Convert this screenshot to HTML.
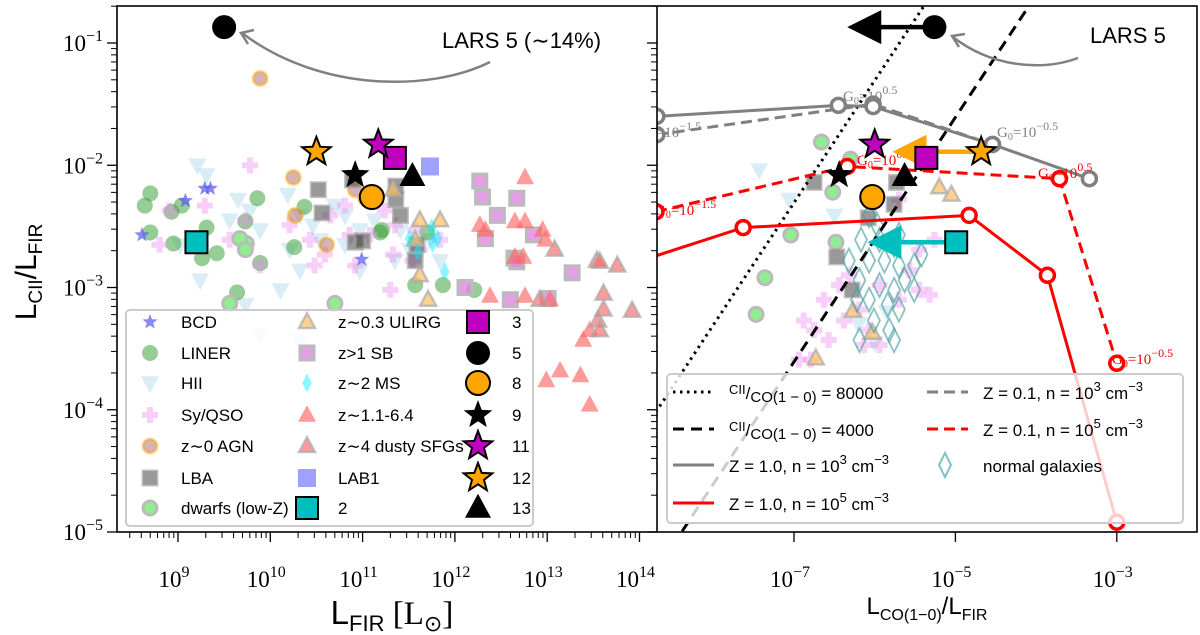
<!DOCTYPE html>
<html><head><meta charset="utf-8"><style>
html,body{margin:0;padding:0;background:#fff;}
svg{display:block;}
text{font-family:"Liberation Sans","DejaVu Sans",sans-serif;}
.tick{font-family:"Liberation Serif","DejaVu Serif",serif;font-size:23px;}
.g0{font-family:"Liberation Serif","DejaVu Serif",serif;font-size:15px;}
.leg{font-size:17px;}
</style></head><body>
<svg id="chart" width="1200" height="635" viewBox="0 0 1200 635" xmlns="http://www.w3.org/2000/svg">
<defs>
<clipPath id="clipL"><rect x="117" y="6" width="540" height="526"/></clipPath>
<clipPath id="clipR"><rect x="657" y="6" width="540" height="526"/></clipPath>
</defs>
<g id="leftData" clip-path="url(#clipL)"></g>
<g id="rightData" clip-path="url(#clipR)"></g>
<g id="axes"></g>
<g id="legends"></g>
</svg>
<script>
// ---- left panel data (log10 L_FIR, log10 L_CII/L_FIR) ----
const bcdX=[8.61,9.08,9.29,9.35,10.99];
const bcdY=[-2.57,-2.29,-2.19,-2.19,-2.77];
const linerX=[8.70,8.64,8.93,9.04,8.70,8.95,9.26,9.31,9.42,9.73,9.86,9.89,9.64,10.26,10.37,11.19,11.70,11.21,11.57,11.87,12.21];
const linerY=[-2.23,-2.33,-2.38,-2.33,-2.55,-2.64,-2.76,-2.51,-2.72,-2.46,-2.27,-2.80,-3.04,-2.67,-2.34,-2.55,-2.55,-2.53,-2.98,-2.98,-3.02];
const hiiX=[9.21,9.31,9.65,9.78,9.56,9.89,10.19,10.32,10.46,10.54,10.70,10.81,10.97,11.13,10.21,10.32,10.11,11.41,11.51,11.73,11.84,9.24,9.02,9.73,10.32,11.35,10.97,9.89,10.81];
const hiiY=[-2.00,-2.08,-2.28,-2.37,-2.45,-2.53,-2.24,-2.41,-2.49,-2.61,-2.33,-2.65,-2.53,-2.45,-2.69,-2.86,-3.02,-2.53,-2.69,-2.61,-2.78,-2.94,-2.65,-3.14,-3.43,-2.78,-2.86,-3.39,-2.41];
const syX=[9.78,8.91,9.29,8.80,9.56,9.73,9.89,10.21,10.43,10.59,10.48,10.65,10.81,10.86,10.92,11.08,11.24,11.35,11.57,11.54,11.62,11.30,11.84,11.33];
const syY=[-2.00,-2.37,-2.33,-2.65,-2.61,-2.45,-2.82,-2.49,-2.61,-2.73,-2.82,-2.41,-2.33,-2.57,-2.82,-2.57,-2.37,-2.49,-2.53,-2.78,-2.69,-3.02,-2.61,-2.73];
const agnX=[9.89,10.25,10.61,10.27,10.92,11.03];
const agnY=[-1.29,-2.10,-2.65,-2.41,-2.20,-2.27];
const lbaX=[10.52,10.56,10.92,11.00,10.89,11.36,11.36,11.41,11.57,11.59];
const lbaY=[-2.20,-2.39,-2.63,-2.62,-2.12,-2.17,-2.28,-2.41,-2.78,-2.65];
const dwarfX=[9.74,9.67,9.56,10.70,9.73];
const dwarfY=[-2.64,-2.60,-3.13,-3.13,-2.69];
const ulirgX=[11.33,11.62,11.84,11.57,11.62,11.71];
const ulirgY=[-2.20,-2.45,-2.45,-2.61,-2.90,-3.10];
const sbX=[12.27,12.30,12.46,12.33,12.67,12.85,12.64,12.67,13.27,12.60,13.01,12.11];
const sbY=[-2.13,-2.26,-2.41,-2.60,-2.27,-2.57,-2.76,-2.79,-2.88,-3.10,-3.09,-3.00];
const msX=[11.51,11.75,11.81,11.60,11.89,11.76];
const msY=[-2.60,-2.51,-2.60,-2.71,-2.87,-2.64];
const hzX=[12.76,12.33,12.27,12.65,12.76,12.95,12.98,12.65,12.74,12.38,12.76,13.03,13.14,13.36,13.46,12.99,13.39,13.46];
const hzY=[-2.10,-2.53,-2.49,-2.46,-2.46,-2.53,-2.61,-2.75,-2.75,-3.07,-3.07,-3.10,-3.68,-3.72,-3.96,-3.76,-3.43,-3.35];
const dustyX=[13.08,13.54,13.57,13.61,13.55,13.57,13.92,12.92,13.61,13.76];
const dustyY=[-2.69,-2.78,-2.79,-3.18,-3.27,-3.35,-3.19,-3.10,-3.05,-2.82];
const lab1X=[11.73]; const lab1Y=[-2.01];
// LARS targets: labels, log L_FIR, log ratio
const targetLabels=["2","3","5","8","9","11","12","13"];
const targetLX=[9.20,11.35,9.50,11.10,10.92,11.17,10.50,11.54];
const targetY=[-2.63,-1.94,-0.87,-2.26,-2.08,-1.83,-1.89,-2.09];
// right panel: log L_CO/L_FIR of targets and arrow tips (upper limits)
const targetRX=[-4.99,-5.36,-5.26,-6.03,-6.44,-6.00,-4.68,-5.63];
const arrowFrom=["5","12","2"];
const arrowTipX=[-6.34,-5.78,-6.09];
// right panel comparison samples
const normX=[-6.07,-5.97,-6.17,-5.94,-5.76,-5.70,-6.07,-5.88,-5.70,-5.51,-6.19,-5.94,-5.76,-5.51,-6.07,-5.84,-5.70,-6.01,-5.82,-6.19,-5.63,-5.42,-6.32,-6.22,-5.76];
const normY=[-2.41,-2.49,-2.61,-2.61,-2.65,-2.57,-2.78,-2.78,-2.82,-2.82,-2.94,-2.98,-3.02,-3.02,-3.10,-3.14,-3.18,-3.27,-3.35,-3.43,-2.94,-2.73,-2.78,-3.10,-3.43];
const rSyX=[-6.88,-6.75,-6.63,-6.44,-6.32,-6.19,-6.07,-5.94,-5.45,-5.32,-5.45,-5.57,-6.94,-6.79,-6.57,-6.38,-5.94,-5.70,-6.13,-5.26,-6.10,-5.70];
const rSyY=[-3.27,-3.35,-3.10,-2.98,-2.90,-3.18,-3.35,-3.47,-3.02,-3.06,-2.69,-2.86,-3.59,-3.59,-3.43,-3.27,-2.98,-3.10,-3.47,-2.61,-2.28,-2.28];
const rDwarfX=[-6.66,-6.30,-6.52,-7.04,-6.48,-7.36,-7.47];
const rDwarfY=[-1.81,-1.95,-2.22,-2.57,-2.63,-2.92,-3.22];
const rLbaX=[-6.75,-6.47,-6.28,-5.73,-6.08,-5.76];
const rLbaY=[-2.14,-2.75,-3.02,-2.14,-2.43,-2.32];
const rUlirgX=[-5.20,-5.05,-6.27,-6.03,-6.73];
const rUlirgY=[-2.18,-2.24,-3.19,-3.37,-3.58];
const rHiiX=[-7.43,-7.06,-6.50,-6.20,-6.00,-5.85];
const rHiiY=[-2.04,-2.28,-2.41,-3.30,-3.45,-3.20];
// model tracks
const gSolidX=[-8.70,-6.45,-6.02,-4.54,-3.34];
const gSolidY=[-1.60,-1.51,-1.52,-1.83,-2.11];
const gDashX=[-8.70,-6.02,-4.54];
const gDashY=[-1.75,-1.50,-1.83];
const rDashX=[-8.71,-6.34,-3.71,-3.00];
const rDashY=[-2.38,-2.01,-2.11,-3.62];
const rSolidX=[-8.80,-7.63,-4.83,-3.86,-3.00];
const rSolidY=[-2.76,-2.51,-2.41,-2.90,-4.92];
const ratioValues=[80000,4000];
const ratioOffset=-0.21;
const yTickVals=[-5,-4,-3,-2,-1];
const lxTickVals=[9,10,11,12,13,14];
const rxTickVals=[-7,-5,-3];

const LX=v=>178+(v-9)*92.3;
const RX=v=>794+(v+7)*80.7;
const Y=v=>43+(-1-v)*122.25;
const NS="http://www.w3.org/2000/svg";
function el(tag,attrs,parent){const e=document.createElementNS(NS,tag);for(const k in attrs)e.setAttribute(k,attrs[k]);parent.appendChild(e);return e;}
function shape(type,cx,cy,s,st,parent){
  let e;
  if(type==='circle'){e=el('circle',{cx:cx,cy:cy,r:s},parent);}
  else if(type==='square'){e=el('rect',{x:cx-s,y:cy-s,width:2*s,height:2*s},parent);}
  else{
    let p=[];
    if(type==='tri'){p=[[0,-s*1.1],[s,s*0.75],[-s,s*0.75]];}
    else if(type==='tridown'){p=[[0,s*1.1],[s,-s*0.75],[-s,-s*0.75]];}
    else if(type==='diamond'){p=[[0,-s*1.2],[s*0.6,0],[0,s*1.2],[-s*0.6,0]];}
    else if(type==='star'){for(let i=0;i<10;i++){const r=i%2?s*0.42:s;const a=-Math.PI/2+i*Math.PI/5;p.push([r*Math.cos(a),r*Math.sin(a)]);}}
    else if(type==='plus'){const w=s*0.38;p=[[-w,-s],[w,-s],[w,-w],[s,-w],[s,w],[w,w],[w,s],[-w,s],[-w,w],[-s,w],[-s,-w],[-w,-w]];}
    e=el('polygon',{points:p.map(q=>(cx+q[0]).toFixed(1)+','+(cy+q[1]).toFixed(1)).join(' ')},parent);
  }
  for(const k in st)e.setAttribute(k,st[k]);
  return e;
}
const S={
 bcd:['star',8,{fill:'#5555ee','fill-opacity':0.7}],
 liner:['circle',8,{fill:'#2e9b2e','fill-opacity':0.5}],
 hii:['tridown',9,{fill:'#add8e6','fill-opacity':0.45}],
 sy:['plus',8,{fill:'#ee88ee','fill-opacity':0.4}],
 agn:['circle',7,{fill:'#b06a6a','fill-opacity':0.5,stroke:'#ffa500','stroke-opacity':0.45,'stroke-width':3}],
 lba:['square',7,{fill:'#333','fill-opacity':0.5,stroke:'#999','stroke-opacity':0.6,'stroke-width':3}],
 dwarf:['circle',7,{fill:'#90ee90',stroke:'#bbb','stroke-width':3}],
 ulirg:['tri',8,{fill:'#ffc060','fill-opacity':0.7,stroke:'#aaa','stroke-opacity':0.7,'stroke-width':2.5}],
 sb:['square',7,{fill:'#dd88dd','fill-opacity':0.8,stroke:'#bbb','stroke-width':3}],
 ms:['diamond',8,{fill:'#00eeff','fill-opacity':0.45}],
 hz:['tri',9,{fill:'#ff6666','fill-opacity':0.65}],
 dusty:['tri',8,{fill:'#ff6666','fill-opacity':0.65,stroke:'#aaa','stroke-opacity':0.7,'stroke-width':2.5}],
 lab1:['square',9,{fill:'#8888ff','fill-opacity':0.8}],
 norm:['diamond',10,{fill:'none',stroke:'#4aa0a0','stroke-opacity':0.65,'stroke-width':1.8}],
 t2:['square',11,{fill:'#00bfbf',stroke:'#000','stroke-width':2}],
 t3:['square',11,{fill:'#bf00bf',stroke:'#000','stroke-width':2}],
 t5:['circle',12,{fill:'#000'}],
 t8:['circle',12,{fill:'#ffa500',stroke:'#000','stroke-width':2}],
 t9:['star',15,{fill:'#000'}],
 t11:['star',15,{fill:'#bf00bf',stroke:'#000','stroke-width':2}],
 t12:['star',15,{fill:'#ffa500',stroke:'#000','stroke-width':2}],
 t13:['tri',13,{fill:'#000'}]
};
function plot(key,xs,ys,fx,parent,name){
  const g=el('g',{},parent);
  
  
  xs.forEach((x,i)=>{const d=S[key];const m=shape(d[0],fx(x),Y(ys[i]),d[1],d[2],g);
    
    });
}
const L=document.getElementById('leftData'),R=document.getElementById('rightData');
const AX=document.getElementById('axes'),LG=document.getElementById('legends');

// ---- left panel ----
plot('hii',hiiX,hiiY,LX,L,'hii-series');
plot('liner',linerX,linerY,LX,L,'liner-series');
plot('sy',syX,syY,LX,L,'sy-qso-series');
plot('bcd',bcdX,bcdY,LX,L,'bcd-series');
plot('dwarf',dwarfX,dwarfY,LX,L,'dwarfs-series');
plot('agn',agnX,agnY,LX,L,'z0-agn-series');
plot('lba',lbaX,lbaY,LX,L,'lba-series');
plot('sb',sbX,sbY,LX,L,'z1-sb-series');
plot('ulirg',ulirgX,ulirgY,LX,L,'ulirg-series');
plot('ms',msX,msY,LX,L,'z2-ms-series');
plot('hz',hzX,hzY,LX,L,'highz-series');
plot('dusty',dustyX,dustyY,LX,L,'dusty-sfg-series');
plot('lab1',lab1X,lab1Y,LX,L,'lab1-series');
targetLabels.forEach((lab,i)=>{const d=S['t'+lab];const m=shape(d[0],LX(targetLX[i]),Y(targetY[i]),d[1],d[2],L);
  
  });
let p=el('path',{d:'M490,62 C430,92 320,92 242,33',fill:'none',stroke:'#808080','stroke-width':2.5},L);

p=el('path',{d:'M248,44 L241,33 L254,30',fill:'none',stroke:'#808080','stroke-width':2.5},L);

let t=el('text',{x:442,y:48,'font-size':22},L);t.textContent='LARS 5 (∼14%)';


// ---- right panel ----
plot('hii',rHiiX,rHiiY,RX,R,'r-hii-series');
plot('sy',rSyX,rSyY,RX,R,'r-sy-qso-series');
plot('dwarf',rDwarfX,rDwarfY,RX,R,'r-dwarfs-series');
plot('lba',rLbaX,rLbaY,RX,R,'r-lba-series');
plot('ulirg',rUlirgX,rUlirgY,RX,R,'r-ulirg-series');
plot('norm',normX,normY,RX,R,'normal-galaxies-series');
ratioValues.forEach((rv,i)=>{
  const off=Math.log10(rv)+ratioOffset;const x1=-9,x2=-1.5;
  const ln=el('line',{x1:RX(x1),y1:Y(x1+off),x2:RX(x2),y2:Y(x2+off),stroke:'#000','stroke-width':3,'stroke-dasharray':i===0?'2.5 4.5':'11 7'},R);
  
  
});
function track(xs,ys,color,dash,name){
  const g=el('g',{},R);
  
  el('polyline',{points:xs.map((x,i)=>RX(x)+','+Y(ys[i])).join(' '),fill:'none',stroke:color,'stroke-width':3,'stroke-dasharray':dash},g);
  xs.forEach((x,i)=>{const c=el('circle',{cx:RX(x),cy:Y(ys[i]),r:7,fill:'#fff',stroke:color,'stroke-width':3.5},g);
    });
}
track(gDashX,gDashY,'#808080','11 6','z01-n3-track');
track(gSolidX,gSolidY,'#808080','none','z1-n3-track');
track(rDashX,rDashY,'#ff0000','11 6','z01-n5-track');
track(rSolidX,rSolidY,'#ff0000','none','z1-n5-track');
function g0(x,y,exp,color,name){const tt=el('text',{x:x,y:y,fill:color,class:'g0'},R);
  tt.innerHTML='G<tspan font-size="10" dy="3">0</tspan><tspan dy="-3">=10</tspan><tspan font-size="12" dy="-7">'+exp+'</tspan>';
  }
g0(640,137,'−1.5','#808080','g0-label-gray-1');
g0(843,101,'0.5','#808080','g0-label-gray-2');
g0(997,137,'−0.5','#808080','g0-label-gray-3');
g0(655,215,'−1.5','#ff0000','g0-label-red-1');
g0(857,165,'0.5','#ff0000','g0-label-red-2');
g0(1038,178,'0.5','#ff0000','g0-label-red-3');
g0(1112,364,'−0.5','#ff0000','g0-label-red-4');
const arrowColors={"5":"#000","12":"#ffa500","2":"#00bfbf"};
arrowFrom.forEach((lab,k)=>{const i=targetLabels.indexOf(lab);const x0=RX(targetRX[i]),x1=RX(arrowTipX[k]),y=Y(targetY[i]);const c=arrowColors[lab];
  const g=el('g',{},R);
  el('line',{x1:x0,y1:y,x2:x1+30,y2:y,stroke:c,'stroke-width':4.5},g);
  el('polygon',{points:x1+','+y+' '+(x1+34)+','+(y-17)+' '+(x1+34)+','+(y+17)},g).setAttribute('fill',c);
});
targetLabels.forEach((lab,i)=>{const d=S['t'+lab];const m=shape(d[0],RX(targetRX[i]),Y(targetY[i]),d[1],d[2],R);
  
  });
p=el('path',{d:'M1078,58 C1040,72 990,66 953,37',fill:'none',stroke:'#808080','stroke-width':2.5},R);

p=el('path',{d:'M959,47 L952,36 L965,34',fill:'none',stroke:'#808080','stroke-width':2.5},R);

t=el('text',{x:1090,y:43,'font-size':22},R);t.textContent='LARS 5';


// ---- axes ----
let fr=el('rect',{x:117,y:6,width:1080,height:526,fill:'none',stroke:'#000','stroke-width':1.6},AX);

el('line',{x1:657,y1:6,x2:657,y2:532,stroke:'#000','stroke-width':1.6},AX);
[117,657].forEach(ax=>{
  yTickVals.forEach(v=>{el('line',{x1:ax-10,x2:ax,y1:Y(v),y2:Y(v),stroke:'#000','stroke-width':1.3},AX);
    for(let m=2;m<=9;m++){const yy=Y(v+Math.log10(m));if(yy>=6)el('line',{x1:ax-6,x2:ax,y1:yy,y2:yy,stroke:'#000','stroke-width':1},AX);}});
});
yTickVals.forEach(v=>{const tt=el('text',{x:103,y:Y(v)+8,'text-anchor':'end',class:'tick'},AX);
  tt.innerHTML='10<tspan font-size="16" dy="-10">−'+(-v)+'</tspan>';
  });
lxTickVals.forEach(v=>{el('line',{x1:LX(v),x2:LX(v),y1:532,y2:542,stroke:'#000','stroke-width':1.3},AX);
  const tt=el('text',{x:LX(v)-4,y:587,'text-anchor':'middle',class:'tick'},AX);
  tt.innerHTML='10<tspan font-size="16" dy="-10">'+v+'</tspan>';
  });
for(let d=8;d<=14;d++){for(let m=2;m<=9;m++){const xx=LX(d+Math.log10(m));if(xx>117&&xx<657)el('line',{x1:xx,x2:xx,y1:532,y2:538,stroke:'#000','stroke-width':1},AX);}}
rxTickVals.forEach(v=>{el('line',{x1:RX(v),x2:RX(v),y1:532,y2:542,stroke:'#000','stroke-width':1.3},AX);
  const tt=el('text',{x:RX(v)-4,y:587,'text-anchor':'middle',class:'tick'},AX);
  tt.innerHTML='10<tspan font-size="16" dy="-10">−'+(-v)+'</tspan>';
  });
t=el('text',{x:0,y:0,'font-size':30,transform:'translate(36,272) rotate(-90)','text-anchor':'middle'},AX);
t.innerHTML='L<tspan font-size="19" dy="6">CII</tspan><tspan dy="-6">/L</tspan><tspan font-size="19" dy="6">FIR</tspan>';

t=el('text',{x:392,y:624,'font-size':33,'text-anchor':'middle'},AX);
t.innerHTML='L<tspan font-size="22" dy="7">FIR</tspan><tspan dy="-7" font-family="Liberation Serif,serif"> [L</tspan><tspan font-size="22" dy="7">⊙</tspan><tspan dy="-7" font-family="Liberation Serif,serif">]</tspan>';

t=el('text',{x:927,y:614,'font-size':24,'text-anchor':'middle'},AX);
t.innerHTML='L<tspan font-size="16" dy="6">CO(1−0)</tspan><tspan dy="-6">/L</tspan><tspan font-size="16" dy="6">FIR</tspan>';


// ---- left legend ----
let lb=el('rect',{x:126,y:310,width:407,height:216,rx:4,fill:'#fff','fill-opacity':0.8,stroke:'#ccc','stroke-width':2},LG);

const rowsY=[322,353,383,415,446,478,508];
const legCols=[
 {mx:150,tx:181,items:[['bcd','BCD'],['liner','LINER'],['hii','HII'],['sy','Sy/QSO'],['agn','z∼0 AGN'],['lba','LBA'],['dwarf','dwarfs (low-Z)']]},
 {mx:307,tx:338,items:[['ulirg','z∼0.3 ULIRG'],['sb','z>1 SB'],['ms','z∼2 MS'],['hz','z∼1.1-6.4'],['dusty','z∼4 dusty SFGs'],['lab1','LAB1'],['t2','2']]},
 {mx:478,tx:512,items:[['t3','3'],['t5','5'],['t8','8'],['t9','9'],['t11','11'],['t12','12'],['t13','13']]}
];
legCols.forEach(c=>c.items.forEach((it,i)=>{const d=S[it[0]];
  const g=el('g',{},LG);
  shape(d[0],c.mx,rowsY[i],d[1],d[2],g);
  const tt=el('text',{x:c.tx,y:rowsY[i]+6,class:'leg'},g);tt.textContent=it[1];}));

// ---- right legend ----
lb=el('rect',{x:667,y:374,width:516,height:149,rx:4,fill:'#fff','fill-opacity':0.8,stroke:'#ccc','stroke-width':2},LG);

const rRows=[392,429,465,503];
function rl(x,y,color,dash,html,name){const g=el('g',{},LG);
  el('line',{x1:x,x2:x+41,y1:y,y2:y,stroke:color,'stroke-width':3,'stroke-dasharray':dash},g);
  const tt=el('text',{x:x+56,y:y+7,class:'leg','font-size':19},g);tt.innerHTML=html;}
rl(673,rRows[0],'#000','2.5 4.5','<tspan font-size="13" dy="-5">CII</tspan><tspan dy="5">/</tspan><tspan font-size="15" dy="3">CO(1 − 0)</tspan><tspan dy="-3"> = 80000</tspan>','legend-ratio-80000');
rl(673,rRows[1],'#000','11 7','<tspan font-size="13" dy="-5">CII</tspan><tspan dy="5">/</tspan><tspan font-size="15" dy="3">CO(1 − 0)</tspan><tspan dy="-3"> = 4000</tspan>','legend-ratio-4000');
rl(673,rRows[2],'#808080','none','Z = 1.0, n = 10<tspan font-size="13" dy="-8">3</tspan><tspan dy="8"> cm</tspan><tspan font-size="13" dy="-8">−3</tspan>','legend-z1-n3');
rl(673,rRows[3],'#ff0000','none','Z = 1.0, n = 10<tspan font-size="13" dy="-8">5</tspan><tspan dy="8"> cm</tspan><tspan font-size="13" dy="-8">−3</tspan>','legend-z1-n5');
rl(927,rRows[0],'#808080','11 6','Z = 0.1, n = 10<tspan font-size="13" dy="-8">3</tspan><tspan dy="8"> cm</tspan><tspan font-size="13" dy="-8">−3</tspan>','legend-z01-n3');
rl(927,rRows[1],'#ff0000','11 6','Z = 0.1, n = 10<tspan font-size="13" dy="-8">5</tspan><tspan dy="8"> cm</tspan><tspan font-size="13" dy="-8">−3</tspan>','legend-z01-n5');
const ng=el('g',{},LG);
shape('diamond',945,rRows[2],10,{fill:'none',stroke:'#7fc4c4','stroke-width':2},ng);
const nt=el('text',{x:983,y:rRows[2]+7,class:'leg','font-size':19},ng);nt.textContent='normal galaxies';
</script>
</body></html>
